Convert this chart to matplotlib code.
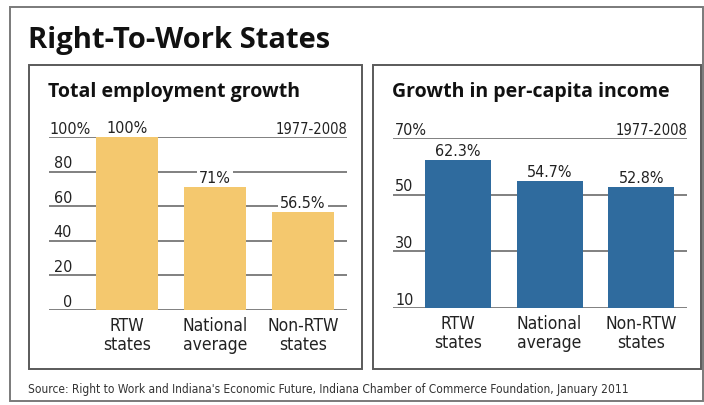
import matplotlib
matplotlib.use("Agg")
import matplotlib.pyplot as plt
from matplotlib.patches import Rectangle

# data
categories = ["RTW\nstates", "National\naverage", "Non-RTW\nstates"]
employment_growth = [100, 71, 56.5]
employment_labels = ["100%", "71%", "56.5%"]
income_growth = [62.3, 54.7, 52.8]
income_labels = ["62.3%", "54.7%", "52.8%"]
emp_ticks = [0, 20, 40, 60, 80, 100]
emp_ticklabels = ["0", "20", "40", "60", "80", "100%"]
inc_ticks = [10, 30, 50, 70]
inc_ticklabels = ["10", "30", "50", "70%"]
period = "1977-2008"

W, H = 704, 405
YELLOW = "#F4C86E"
BLUE = "#2F6B9E"
GRID = "#808080"
INK = "#222222"
NARROW = dict(family=["DejaVu Sans"], fontstretch="condensed")
BOLD = dict(family=["Open Sans", "DejaVu Sans"], weight="bold")

fig = plt.figure(figsize=(W / 100, H / 100), dpi=100)
fig.patch.set_facecolor("white")


def px_rect(x0, y0, x1, y1):
    # pixel box (top-left origin) -> figure fraction [l, b, w, h]
    return [x0 / W, 1 - y1 / H, (x1 - x0) / W, (y1 - y0) / H]


def frame(x0, y0, x1, y1, color, lw):
    l, b, w, h = px_rect(x0, y0, x1, y1)
    fig.patches.append(Rectangle((l, b), w, h, transform=fig.transFigure,
                                 fill=False, ec=color, lw=lw))


def px_text(x, y, s, **kw):
    fig.text(x / W, 1 - y / H, s, **kw)


# outer and panel frames
frame(10, 7, 703, 401, "#7a7a7a", 1.4)
frame(29, 65, 362, 369, "#5a5a5a", 1.4)
frame(373, 65, 701, 369, "#5a5a5a", 1.4)

px_text(28, 48, "Right-To-Work States", fontsize=21, color="#111111",
        va="baseline", **BOLD)
px_text(48, 97, "Total employment growth", fontsize=14, color="#111111",
        va="baseline", **BOLD)
px_text(392, 97, "Growth in per-capita income", fontsize=14,
        color="#111111", va="baseline", **BOLD)
px_text(28, 393, "Source: Right to Work and Indiana's Economic Future, "
        "Indiana Chamber of Commerce Foundation, January 2011",
        fontsize=8.6, color="#333333", va="baseline", **NARROW)


def panel(rect, values, labels, ticks, ticklabels, ylim, xlim, width,
          color, tick_x, tick_ha, top_x, box_labels):
    ax = fig.add_axes(px_rect(*rect))
    ax.set_xlim(*xlim)
    ax.set_ylim(*ylim)
    for s in ax.spines.values():
        s.set_visible(False)
    ax.tick_params(axis="y", left=False, labelleft=False)
    ax.tick_params(axis="x", length=0, pad=5)
    x = list(range(len(values)))
    ax.set_xticks(x)
    ax.set_xticklabels(categories, fontsize=12.5, color=INK,
                       linespacing=1.05, **NARROW)

    for t in ticks:
        ax.axhline(t, color=GRID, lw=1.4, zorder=1)
    yt = ax.get_yaxis_transform()
    for t, lab in zip(ticks, ticklabels):
        if lab.endswith("%"):
            tx, ha = top_x, "left"
        else:
            tx, ha = tick_x, tick_ha
        ax.annotate(lab, (tx, t), xycoords=yt, xytext=(0, 2.5),
                    textcoords="offset points", ha=ha, va="baseline",
                    fontsize=11.5, color=INK, **NARROW)
    ax.annotate(period, (1.0, ticks[-1]), xycoords=yt, xytext=(0, 2.5),
                textcoords="offset points", ha="right", va="baseline",
                fontsize=10.5, color=INK, **NARROW)

    ax.bar(x, [v - ylim[0] for v in values], width=width, bottom=ylim[0],
           color=color, zorder=2)
    for xi, v, lab in zip(x, values, labels):
        kw = {}
        if box_labels:
            kw["bbox"] = dict(boxstyle="square,pad=0.12", fc="white",
                              ec="none")
        ax.annotate(lab, (xi, v), xytext=(0, 3), textcoords="offset points",
                    ha="center", va="baseline", fontsize=11.5, color=INK,
                    zorder=1.5, **NARROW, **kw)
    return ax


panel((49, 137, 347, 310), employment_growth, employment_labels, emp_ticks,
      emp_ticklabels, (0, 100), (-0.886, 2.5), 0.70, YELLOW,
      tick_x=(72 - 49) / 298, tick_ha="right", top_x=0.003, box_labels=True)
panel((393, 138, 687, 308), income_growth, income_labels, inc_ticks,
      inc_ticklabels, (10, 70), (-0.71, 2.5), 0.72, BLUE,
      tick_x=0.007, tick_ha="left", top_x=0.007, box_labels=False)

fig.savefig("out.png", dpi=100, facecolor="white")
